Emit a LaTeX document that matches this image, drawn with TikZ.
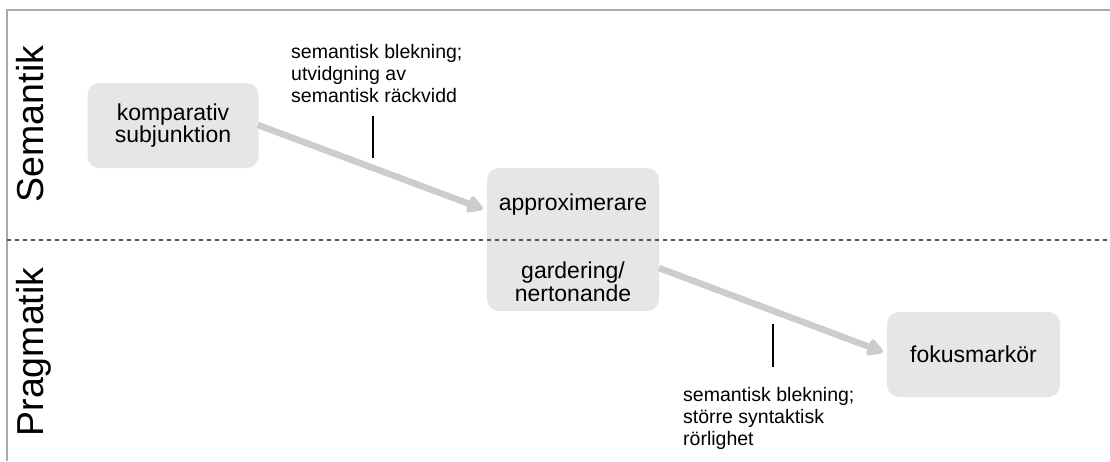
\documentclass[tikz,border=0pt]{standalone}
\usepackage{fontspec}
\setmainfont{Liberation Sans}
\usetikzlibrary{arrows.meta}
\definecolor{boxfill}{HTML}{E6E6E6}
\definecolor{arrowgray}{HTML}{CCCCCC}
\definecolor{framegray}{HTML}{AAAAAA}
\definecolor{dashgray}{HTML}{555555}
\begin{document}
\begin{tikzpicture}[x=1pt,y=-1pt,
  conceptbox/.style={fill=boxfill, rounded corners=12pt, inner sep=0pt, align=center,
    font=\fontsize{23}{22}\selectfont},
  boxtext/.style={inner sep=0pt, align=center, font=\fontsize{23}{21}\selectfont},
  notetext/.style={inner sep=0pt, align=left, anchor=north west, font=\fontsize{19.5}{22}\selectfont},
  sidetext/.style={inner sep=0pt, rotate=90, anchor=base, font=\fontsize{37.5}{37}\selectfont},
  flow/.style={draw=arrowgray, line width=6.5pt, -{Triangle[length=18pt,width=19pt,fill=arrowgray,round]}},
  leader/.style={draw=black, line width=1.2pt},
  frame/.style={draw=framegray, line width=1.5pt},
  divider/.style={draw=dashgray, line width=1.5pt, dash pattern=on 4pt off 4pt}]
\useasboundingbox (0,0) rectangle (1110,461);
% frame
\coordinate (ftl) at (7,10);
\coordinate (ftr) at (1110,10);
\coordinate (fbl) at (7,461);
\draw[frame] (ftr) -- (ftl) -- (fbl);
% side labels
\node[sidetext] (sem) at (43,124) {Semantik};
\node[sidetext] (prag) at (43,352) {Pragmatik};
% boxes
\node[conceptbox, minimum width=171pt, minimum height=85pt] (komp) at (173,125.5) {komparativ\\subjunktion};
\node[conceptbox, minimum width=172pt, minimum height=143pt] (mid) at (573,239.5) {};
\node[boxtext, anchor=base] (appr) at (573,210) {approximerare};
\node[boxtext, anchor=north] (gard) at (573,262) {gardering/\\nertonande};
\node[conceptbox, minimum width=173pt, minimum height=85pt] (fokus) at (973.5,354.5) {fokusmarkör};
% divider
\coordinate (dl) at (7,240);
\coordinate (dr) at (1110,240);
\draw[divider] (dl) -- (dr);
% arrows
\coordinate (a1s) at (258,125);
\coordinate (a1e) at (483,209);
\coordinate (a2s) at (659,268);
\coordinate (a2e) at (883,352);
\draw[flow] (a1s) -- (a1e);
\draw[flow] (a2s) -- (a2e);
% notes
\node[notetext] (n1) at (291,44) {semantisk blekning;\\utvidgning av\\semantisk räckvidd};
\node[notetext] (n2) at (683,387) {semantisk blekning;\\större syntaktisk\\rörlighet};
\coordinate (t1a) at (373,116);
\coordinate (t1b) at (373,158);
\coordinate (t2a) at (773,324);
\coordinate (t2b) at (773,367);
\draw[leader] (t1a) -- (t1b);
\draw[leader] (t2a) -- (t2b);
\end{tikzpicture}
\end{document}
